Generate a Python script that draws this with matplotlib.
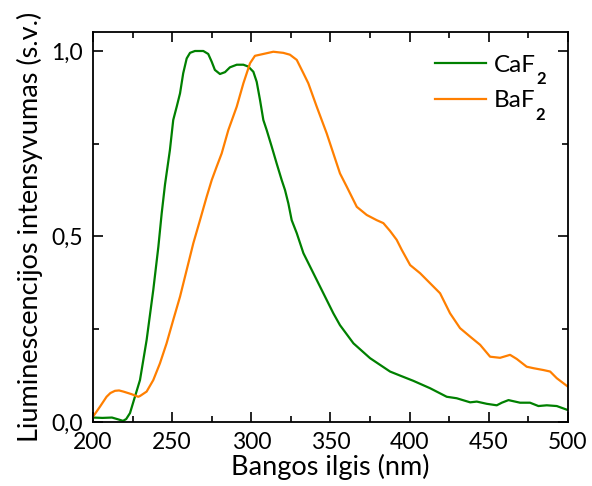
import matplotlib
matplotlib.use("Agg")
import matplotlib.pyplot as plt
from matplotlib.ticker import MultipleLocator, FuncFormatter
from matplotlib.font_manager import FontProperties

plt.rcParams['font.family'] = ['Lato', 'DejaVu Sans']

caf2_x = [200, 206, 212, 216, 219, 221, 223.4, 226.5, 229.7, 233.9, 238.1, 241.3, 243.4, 245.5,
          248.6, 250.7, 252.9, 255, 257, 259.2, 261.3, 264.4, 269.7, 272.8, 275, 277, 280.2,
          283.4, 286.5, 290.8, 295, 298.1, 301.3, 303.4, 305.5, 307.6, 309.7, 312.9, 316, 319.2,
          321.3, 323.4, 325.5, 328.7, 332.9, 339.2, 345.5, 351.8, 356, 364.5, 375, 381.3, 387.6,
          394, 402.3, 412.9, 423.4, 429.7, 438.2, 442.4, 448.7, 455, 458.2, 462.4, 469.7, 476,
          481.3, 486.6, 492.9, 500]
caf2_y = [0.012, 0.011, 0.012, 0.007, 0.003, 0.008, 0.024, 0.068, 0.113, 0.221, 0.356, 0.472, 0.562, 0.640,
          0.733, 0.814, 0.850, 0.886, 0.940, 0.980, 0.995, 1.0, 1.0, 0.992, 0.971, 0.949, 0.938,
          0.943, 0.956, 0.963, 0.963, 0.958, 0.944, 0.917, 0.868, 0.814, 0.787, 0.742, 0.697, 0.652,
          0.625, 0.589, 0.544, 0.509, 0.455, 0.401, 0.347, 0.293, 0.261, 0.212, 0.172, 0.154, 0.136,
          0.125, 0.111, 0.091, 0.068, 0.064, 0.053, 0.055, 0.049, 0.045, 0.052, 0.059, 0.052, 0.052,
          0.043, 0.045, 0.043, 0.032]

baf2_x = [200, 204.4, 208.6, 211, 213.9, 216.5, 219.2, 224.4, 228.6, 229.7, 233.9, 238.1, 242.3,
          246.5, 250.7, 255, 259.2, 263.4, 267.6, 271.8, 275, 278.1, 281.3, 285.5, 290.8, 295,
          299.2, 302.3, 307.6, 313.9, 320.2, 324.4, 328.7, 332.9, 336, 341.3, 347.6, 351.8, 356,
          360.3, 366.6, 372.9, 379.2, 383.4, 387.6, 391.8, 395, 400.3, 406.6, 412.9, 419.2, 425.5,
          431.8, 438.2, 444.5, 450.8, 457.1, 463.4, 467.6, 473.9, 478.2, 484.5, 488.7, 492.9, 500]
baf2_y = [0.014, 0.041, 0.068, 0.078, 0.084, 0.085, 0.082, 0.075, 0.068, 0.070, 0.082, 0.113, 0.158,
          0.212, 0.275, 0.338, 0.410, 0.482, 0.544, 0.607, 0.652, 0.688, 0.724, 0.787, 0.850, 0.913,
          0.967, 0.987, 0.992, 0.998, 0.995, 0.990, 0.976, 0.940, 0.913, 0.850, 0.778, 0.724, 0.670,
          0.634, 0.580, 0.558, 0.544, 0.536, 0.515, 0.491, 0.464, 0.423, 0.401, 0.374, 0.347, 0.293,
          0.253, 0.230, 0.208, 0.176, 0.173, 0.181, 0.170, 0.149, 0.145, 0.140, 0.136, 0.118, 0.095]

series_labels = ['CaF', 'BaF']
subscript = '2'

fig = plt.figure(figsize=(5.92, 4.86), dpi=100)
ax = fig.add_axes([0.157, 0.1317, 0.8025, 0.8023])

ax.plot(caf2_x, caf2_y, color='#008000', lw=1.6, label=series_labels[0])
ax.plot(baf2_x, baf2_y, color='#FF7F00', lw=1.6, label=series_labels[1])

ax.set_xlim(200, 500)
ax.set_ylim(0, 1.051)
ax.xaxis.set_major_locator(MultipleLocator(50))
ax.xaxis.set_minor_locator(MultipleLocator(25))
ax.yaxis.set_major_locator(MultipleLocator(0.5))
ax.yaxis.set_minor_locator(MultipleLocator(0.25))
ax.yaxis.set_major_formatter(FuncFormatter(lambda v, p: f"{v:.1f}".replace('.', ',')))
ax.tick_params(which='both', direction='in', top=True, right=True, labelsize=16.5, width=1.2, pad=7)
ax.tick_params(which='major', length=7)
ax.tick_params(which='minor', length=4)
for s in ax.spines.values():
    s.set_linewidth(1.3)

ax.set_xlabel('Bangos ilgis (nm)', fontsize=19.5, labelpad=1)
ax.set_ylabel('Liuminescencijos intensyvumas (s.v.)', fontsize=19.5, labelpad=6)

leg = ax.legend(loc='upper left', frameon=False, fontsize=17.5, handlelength=2.1,
                handletextpad=0.3, borderpad=0, labelspacing=0.6,
                bbox_to_anchor=(0.695, 0.973))

fig.canvas.draw()
renderer = fig.canvas.get_renderer()
sub_fp = FontProperties(family='Lato', weight='bold', size=12)
for t in leg.get_texts():
    bb = t.get_window_extent(renderer)
    _, _, d = renderer.get_text_width_height_descent('lp', t.get_fontproperties(), ismath=False)
    baseline = bb.y0 + d
    fig.text((bb.x1 + 0.5) / fig.bbox.width, (baseline - 12.5) / fig.bbox.height, subscript,
             fontproperties=sub_fp, va='baseline', ha='left')

fig.savefig('out.png', dpi=100)
